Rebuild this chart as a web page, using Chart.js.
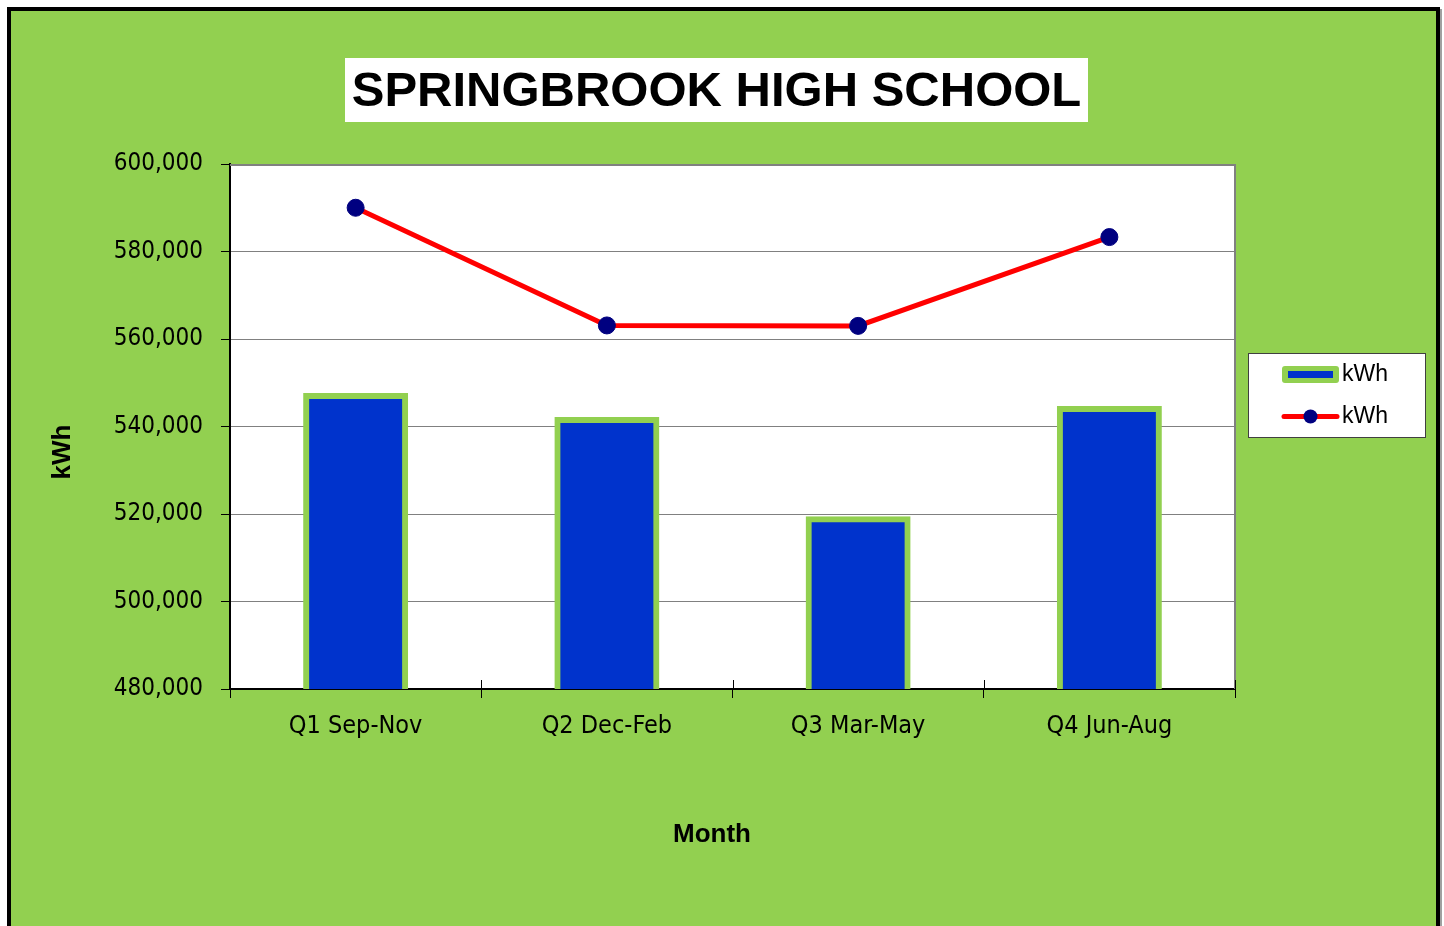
<!DOCTYPE html>
<html><head><meta charset="utf-8">
<script src="https://cdn.jsdelivr.net/npm/chart.js@4/dist/chart.umd.min.js"></script>
<style>html,body{margin:0;padding:0;background:#fff;overflow:hidden}</style>
</head><body>
<canvas id="c" width="1444" height="926" style="display:block;width:1444px;height:926px"></canvas>
<script>
const categories = ['Q1 Sep-Nov', 'Q2 Dec-Feb', 'Q3 Mar-May', 'Q4 Jun-Aug'];
const barValues = [547000, 541500, 518800, 544000];
const lineValues = [590000, 563100, 563000, 583300];
const yMin = 480000, yMax = 600000, yStep = 20000;
const seriesNames = ['kWh', 'kWh'];
const chartTitle = 'SPRINGBROOK HIGH SCHOOL';
const xTitle = 'Month';
const yTitle = 'kWh';

const NARROW = "'Liberation Sans Narrow', 'Arial Narrow', 'DejaVu Sans Condensed', sans-serif";
const SANS = "'Liberation Sans', Arial, sans-serif";
const GREEN = '#92D050', BLUE = '#0033CC', RED = '#FF0000', NAVY = '#000080';

const decor = {
  id: 'decor',
  beforeDraw(chart) {
    const {ctx, chartArea: a} = chart;
    ctx.save();
    ctx.fillStyle = '#fff';
    ctx.fillRect(0, 0, chart.width, chart.height);
    ctx.fillStyle = '#a0a0a0';
    ctx.fillRect(1440, 9, 2, chart.height);
    ctx.fillStyle = GREEN;
    ctx.fillRect(9, 9, 1429, chart.height);
    ctx.strokeStyle = '#000';
    ctx.lineWidth = 4;
    ctx.strokeRect(9, 9, 1429, chart.height + 20);
    ctx.fillStyle = '#fff';
    ctx.fillRect(a.left, a.top, a.width, a.height);
    ctx.restore();
  },
  beforeDatasetsDraw(chart) {
    const {ctx, chartArea: a} = chart;
    ctx.save();
    ctx.strokeStyle = '#808080';
    ctx.lineWidth = 2;
    ctx.beginPath();
    ctx.moveTo(a.left, a.top + 1);
    ctx.lineTo(a.right, a.top + 1);
    ctx.moveTo(a.right, a.top);
    ctx.lineTo(a.right, a.bottom);
    ctx.stroke();
    ctx.restore();
  },
  afterDraw(chart) {
    const {ctx, chartArea: a} = chart;
    const xs = chart.scales.x;
    ctx.save();
    // inward tick marks on the category axis
    ctx.strokeStyle = '#000';
    ctx.lineWidth = 1;
    const n = categories.length;
    ctx.beginPath();
    for (let i = 0; i <= n; i++) {
      const x = Math.round(xs.left + i * xs.width / n) + 0.5;
      ctx.moveTo(x, a.bottom - 9);
      ctx.lineTo(x, a.bottom);
    }
    ctx.stroke();

    // title box
    ctx.fillStyle = '#fff';
    ctx.fillRect(345, 58, 743, 64);
    ctx.fillStyle = '#000';
    ctx.font = 'bold 49px ' + SANS;
    ctx.textAlign = 'center';
    ctx.textBaseline = 'middle';
    ctx.fillText(chartTitle, 716.5, 92.5);

    // axis titles
    ctx.font = 'bold 26px ' + SANS;
    ctx.fillText(xTitle, 712, 835);
    ctx.save();
    ctx.translate(63, 452);
    ctx.rotate(-Math.PI / 2);
    ctx.fillText(yTitle, 0, 0);
    ctx.restore();

    // legend
    const bar = chart.data.datasets[1];
    const line = chart.data.datasets[0];
    ctx.fillStyle = '#fff';
    ctx.fillRect(1248.5, 353.5, 177, 84);
    ctx.strokeStyle = '#404040';
    ctx.lineWidth = 1;
    ctx.strokeRect(1248.5, 353.5, 177, 84);

    ctx.fillStyle = bar.borderColor;
    ctx.beginPath();
    ctx.roundRect(1282, 366, 57, 17, 3);
    ctx.fill();
    ctx.fillStyle = bar.backgroundColor;
    ctx.fillRect(1288, 371, 45, 7);

    ctx.strokeStyle = line.borderColor;
    ctx.lineWidth = 5;
    ctx.lineCap = 'round';
    ctx.beginPath();
    ctx.moveTo(1284, 416.5);
    ctx.lineTo(1337, 416.5);
    ctx.stroke();
    ctx.fillStyle = line.pointBackgroundColor;
    ctx.beginPath();
    ctx.arc(1310.5, 416.5, 7, 0, Math.PI * 2);
    ctx.fill();

    ctx.fillStyle = '#000';
    ctx.font = '23px ' + SANS;
    ctx.textAlign = 'left';
    ctx.fillText(bar.label, 1342, 375);
    ctx.fillText(line.label, 1342, 417);
    ctx.restore();
  }
};

new Chart(document.getElementById('c'), {
  data: {
    labels: categories,
    datasets: [
      {
        type: 'line', label: seriesNames[1], data: lineValues, order: 0,
        borderColor: RED, borderWidth: 5, tension: 0,
        pointRadius: 8.5, pointBackgroundColor: NAVY, pointBorderColor: NAVY, pointBorderWidth: 1,
        clip: false
      },
      {
        type: 'bar', label: seriesNames[0], data: barValues, order: 1,
        backgroundColor: BLUE, borderColor: GREEN, borderWidth: 6, borderSkipped: false,
        inflateAmount: 3, barPercentage: 0.394, categoryPercentage: 1, clip: 0
      }
    ]
  },
  options: {
    responsive: false,
    devicePixelRatio: 1,
    animation: false,
    events: [],
    layout: {padding: {left: 10, right: 209, top: 164, bottom: 0}},
    plugins: {legend: {display: false}, tooltip: {enabled: false}, title: {display: false}},
    scales: {
      x: {
        type: 'category',
        offset: true,
        grid: {offset: true, drawOnChartArea: false, tickLength: 9, color: '#000', tickColor: '#000', lineWidth: 1},
        border: {color: '#000', width: 2},
        ticks: {color: '#000', padding: 13, maxRotation: 0, font: {family: NARROW, size: 25}},
        afterFit(s) { s.height = 237; }
      },
      y: {
        min: yMin, max: yMax,
        grid: {color: '#808080', lineWidth: 1, tickLength: 9, tickColor: '#000'},
        border: {color: '#000', width: 2},
        ticks: {
          stepSize: yStep, color: '#000', padding: 18,
          font: {family: NARROW, size: 24},
          callback: v => Number(v).toLocaleString('en-US')
        },
        afterFit(s) { s.width = 220; }
      }
    }
  },
  plugins: [decor]
});
</script>
</body></html>
